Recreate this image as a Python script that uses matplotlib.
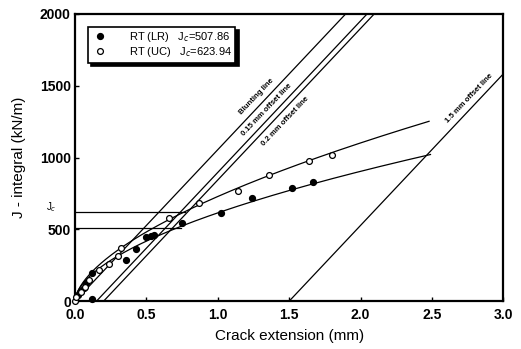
import numpy as np
import matplotlib
matplotlib.use("Agg")
import matplotlib.pyplot as plt
import matplotlib.transforms as mtransforms

plt.rcParams['font.family'] = ['Liberation Sans', 'DejaVu Sans']

# ---- data ----
lr_da = [0.02, 0.04, 0.06, 0.08, 0.12, 0.12, 0.36, 0.43, 0.50, 0.53, 0.55, 0.75, 1.02, 1.24, 1.52, 1.67]
lr_J = [40, 70, 95, 125, 196, 14, 285, 364, 445, 455, 460, 545, 615, 720, 790, 832]
uc_da = [0.0, 0.01, 0.04, 0.07, 0.10, 0.17, 0.24, 0.30, 0.32, 0.66, 0.87, 1.14, 1.36, 1.64, 1.80]
uc_J = [0, 28, 63, 100, 147, 217, 259, 315, 371, 580, 682, 769, 881, 979, 1021]

# power-law fits J = C * da^n
lr_fit_C, lr_fit_n, lr_fit_end = 615, 0.556, 2.49
uc_fit_C, uc_fit_n, uc_fit_end = 729, 0.596, 2.48

jc_values = [507.86, 623.94]
jc_line_end = [0.74, 0.77]

blunt_slope = 1055  # kN/m per mm
offsets = [0.0, 0.15, 0.2, 1.5]
offset_labels = ["Blunting line", "0.15 mm offset line", "0.2 mm offset line", "1.5 mm offset line"]
offset_label_pos = [(1.27, 1425), (1.34, 1332), (1.47, 1255), (2.76, 1410)]

x_ticks = [0.0, 0.5, 1.0, 1.5, 2.0, 2.5, 3.0]
y_ticks = [0, 500, 1000, 1500, 2000]

# ---- figure ----
fig = plt.figure(figsize=(5.21, 3.49), dpi=100)
ax = fig.add_axes([0.144, 0.137, 0.822, 0.823])
ax.set_xlim(0, 3.0)
ax.set_ylim(0, 2000)

# blunting and offset lines
for off in offsets:
    x_end = min(3.0, off + 2000 / blunt_slope)
    xs = np.array([off, x_end])
    ax.plot(xs, blunt_slope * (xs - off), color='black', lw=0.9, zorder=2)

for (lx, ly), lab in zip(offset_label_pos, offset_labels):
    ax.text(lx, ly, lab, fontsize=5.6, fontweight='bold', rotation=46.5,
            rotation_mode='anchor', ha='center', va='center')

# Jc lines
for jc, xe in zip(jc_values, jc_line_end):
    ax.plot([0, xe], [jc, jc], color='black', lw=0.9, zorder=2)

# fits
for C, n, xe in [(lr_fit_C, lr_fit_n, lr_fit_end), (uc_fit_C, uc_fit_n, uc_fit_end)]:
    xs = np.linspace(0, xe, 300)
    ax.plot(xs, C * xs ** n, color='black', lw=0.9, zorder=2)

# data points
ax.plot(lr_da, lr_J, 'o', ms=4.2, mfc='black', mec='black', ls='none', zorder=3,
        label=r'RT (LR)   J$_c$=507.86', clip_on=False)
ax.plot(uc_da, uc_J, 'o', ms=4.2, mfc='white', mec='black', mew=0.9, ls='none', zorder=3,
        label=r'RT (UC)   J$_c$=623.94', clip_on=False)

leg = ax.legend(loc='upper left', bbox_to_anchor=(0.03, 0.955), borderaxespad=0,
                fontsize=8.0, frameon=True, fancybox=False, edgecolor='black', framealpha=1,
                shadow={'color': 'black', 'alpha': 1.0, 'ox': 2.5, 'oy': -2.5},
                handletextpad=1.9, borderpad=0.3, labelspacing=0.1, handlelength=1.5)
leg.get_frame().set_linewidth(1.2)

# Jc label on y axis
trans = mtransforms.blended_transform_factory(ax.transAxes, ax.transData)
ax.text(-0.055, 655, r'J$_c$', transform=trans, fontsize=7, ha='center', va='center')

ax.set_xticks(x_ticks)
ax.set_yticks(y_ticks)
ax.set_xticklabels([f"{v:.1f}" for v in x_ticks], fontsize=10, fontweight='bold')
ax.set_yticklabels([str(v) for v in y_ticks], fontsize=10, fontweight='bold')
ax.tick_params(direction='in', length=3, width=1)
ax.tick_params(axis='x', pad=5)
ax.tick_params(axis='y', pad=3)

for s in ax.spines.values():
    s.set_linewidth(1.6)

ax.set_xlabel('Crack extension (mm)', fontsize=11, labelpad=5)
ax.set_ylabel('J - integral (kN/m)', fontsize=11, labelpad=10)

fig.savefig('out.png', dpi=100)
